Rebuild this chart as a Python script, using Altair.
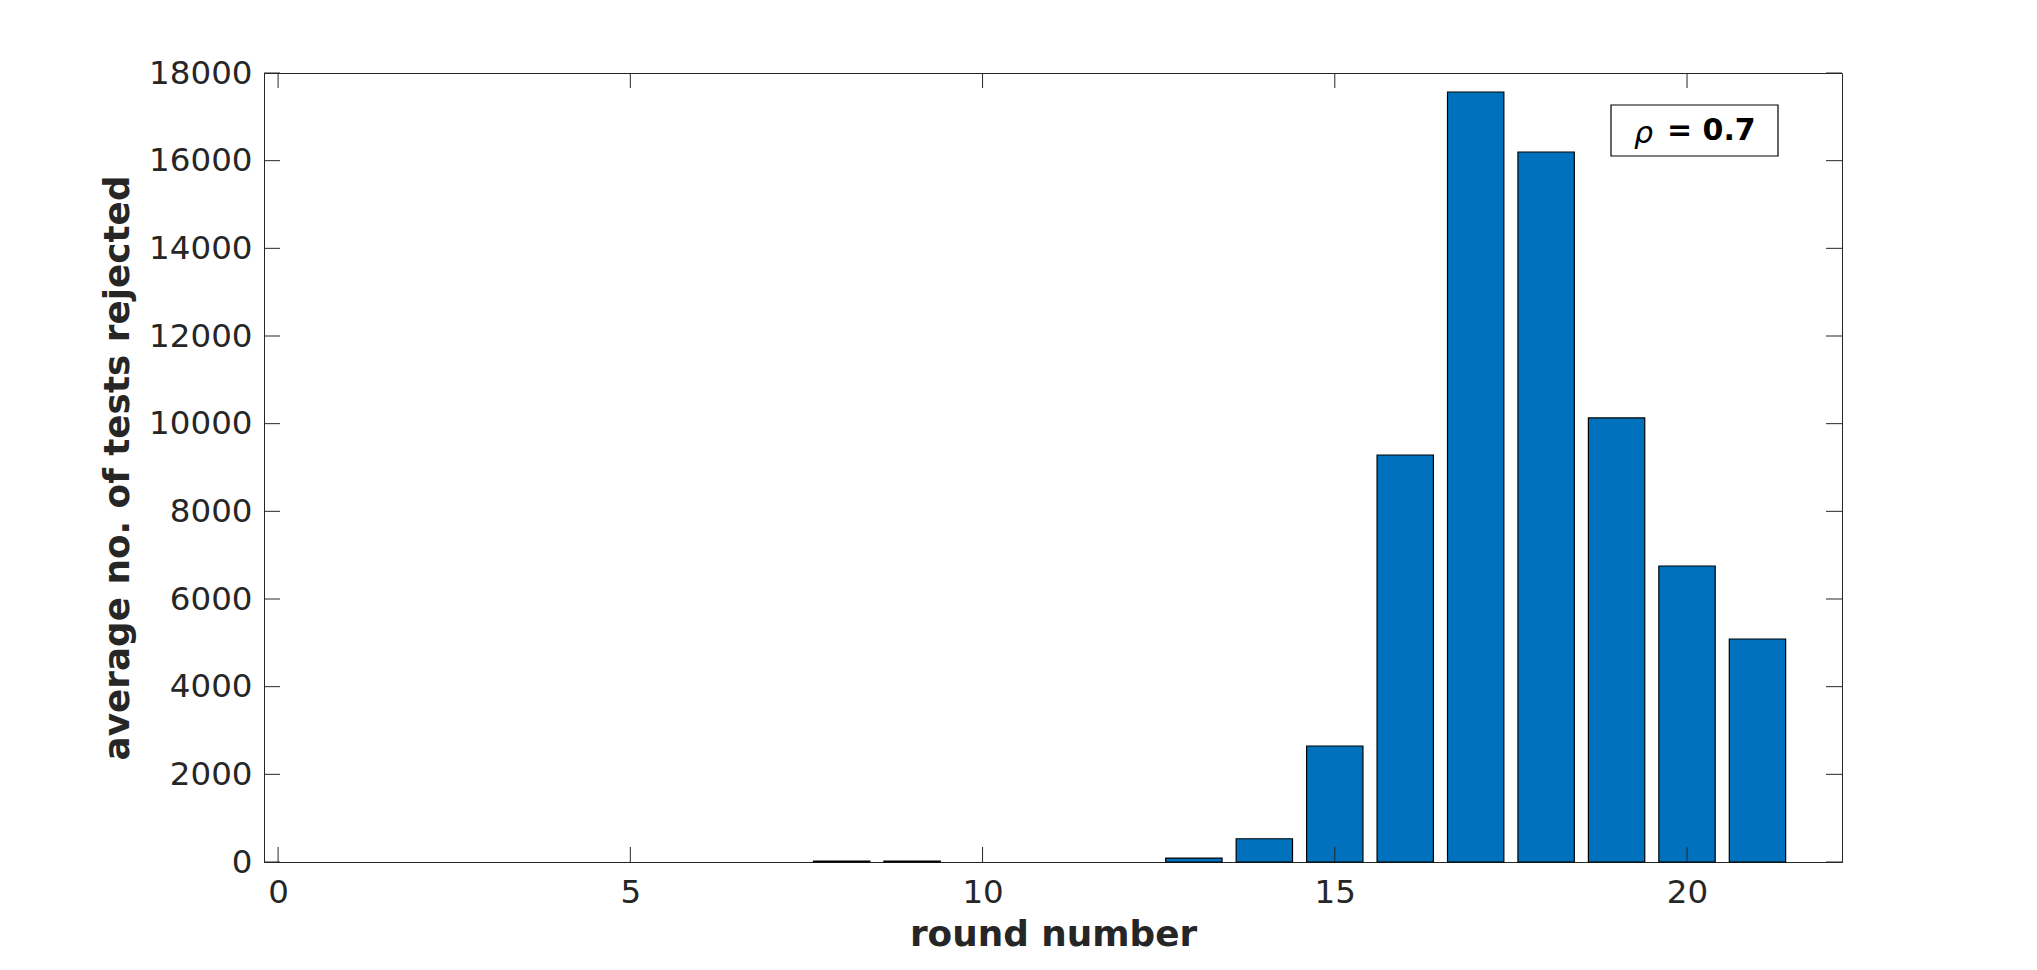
import altair as alt
import pandas as pd

# ---- data ----
rounds = list(range(1, 22))
values = [0, 0, 0, 0, 0, 0, 0, 20, 20, 0, 0, 0, 90, 530, 2646, 9285,
          17567, 16198, 10130, 6753, 5088]
x_ticks = [0, 5, 10, 15, 20]
y_ticks = [0, 2000, 4000, 6000, 8000, 10000, 12000, 14000, 16000, 18000]
legend_symbol = ["ρ"]
legend_value = ["= 0.7"]

W, H = 1578, 789
AX = "#262626"
FONT = "DejaVu Sans"

df = pd.DataFrame({"round": rounds, "value": values})
df = df[df["value"] > 0]
xt = pd.DataFrame({"t": x_ticks})
yt = pd.DataFrame({"t": y_ticks})

xscale = alt.Scale(domain=[-0.2, 22.2], nice=False, zero=False)
yscale = alt.Scale(domain=[0, 18000], nice=False)

xaxis = alt.Axis(values=x_ticks, title="round number", ticks=False,
                 grid=False, labelPadding=14, titlePadding=9, format="d")
yaxis = alt.Axis(values=y_ticks, title="average no. of tests rejected",
                 ticks=False, grid=False, labelPadding=12,
                 titlePadding=12, format="d")

bars = alt.Chart(df).transform_calculate(
    x0="datum.round - 0.4", x1="datum.round + 0.4"
).mark_bar(color="#0072BD", stroke="black", strokeWidth=1.2).encode(
    x=alt.X("x0:Q", scale=xscale, axis=xaxis, title="round number"),
    x2="x1:Q",
    y=alt.Y("value:Q", scale=yscale, axis=yaxis,
            title="average no. of tests rejected"),
    y2=alt.datum(0),
)

tick_x_bottom = alt.Chart(xt).mark_rule(color=AX, strokeWidth=1).encode(
    x=alt.X("t:Q", scale=xscale, axis=xaxis, title="round number"),
    y=alt.value(H), y2=alt.value(H - 15))
tick_x_top = alt.Chart(xt).mark_rule(color=AX, strokeWidth=1).encode(
    x=alt.X("t:Q", scale=xscale, axis=xaxis, title="round number"),
    y=alt.value(0), y2=alt.value(15))
tick_y_left = alt.Chart(yt).mark_rule(color=AX, strokeWidth=1).encode(
    y=alt.Y("t:Q", scale=yscale, axis=yaxis,
            title="average no. of tests rejected"),
    x=alt.value(0), x2=alt.value(16))
tick_y_right = alt.Chart(yt).mark_rule(color=AX, strokeWidth=1).encode(
    y=alt.Y("t:Q", scale=yscale, axis=yaxis,
            title="average no. of tests rejected"),
    x=alt.value(W), x2=alt.value(W - 16))

leg_df = pd.DataFrame({"s": legend_symbol, "v": legend_value})
leg_box = alt.Chart(leg_df).mark_rect(fill="white", stroke="black", strokeWidth=1.2).encode(
    x=alt.value(1347), x2=alt.value(1514), y=alt.value(32), y2=alt.value(83))
leg_sym = alt.Chart(leg_df).mark_text(
    font=FONT, fontSize=30, fontStyle="italic", align="left", baseline="middle",
    color="black").encode(text="s:N", x=alt.value(1370), y=alt.value(61))
leg_val = alt.Chart(leg_df).mark_text(
    font=FONT, fontSize=30, fontWeight="bold", align="left", baseline="middle",
    color="black").encode(text="v:N", x=alt.value(1403), y=alt.value(58))

chart = alt.layer(
    bars, tick_x_bottom, tick_x_top, tick_y_left, tick_y_right,
    leg_box, leg_sym, leg_val
).properties(
    width=W, height=H,
    autosize=alt.AutoSizeParams(type="none"),
    padding={"left": 256, "top": 65, "right": 180, "bottom": 100},
    background="white",
).configure_view(
    stroke=AX, strokeWidth=1
).configure_axis(
    domainColor=AX, domainWidth=1,
    labelFont=FONT, labelFontSize=32.5, labelColor=AX,
    titleFont=FONT, titleFontSize=35.8, titleFontWeight="bold", titleColor=AX,
)

chart.save("out.html", embed_options={"renderer": "svg", "actions": False})
